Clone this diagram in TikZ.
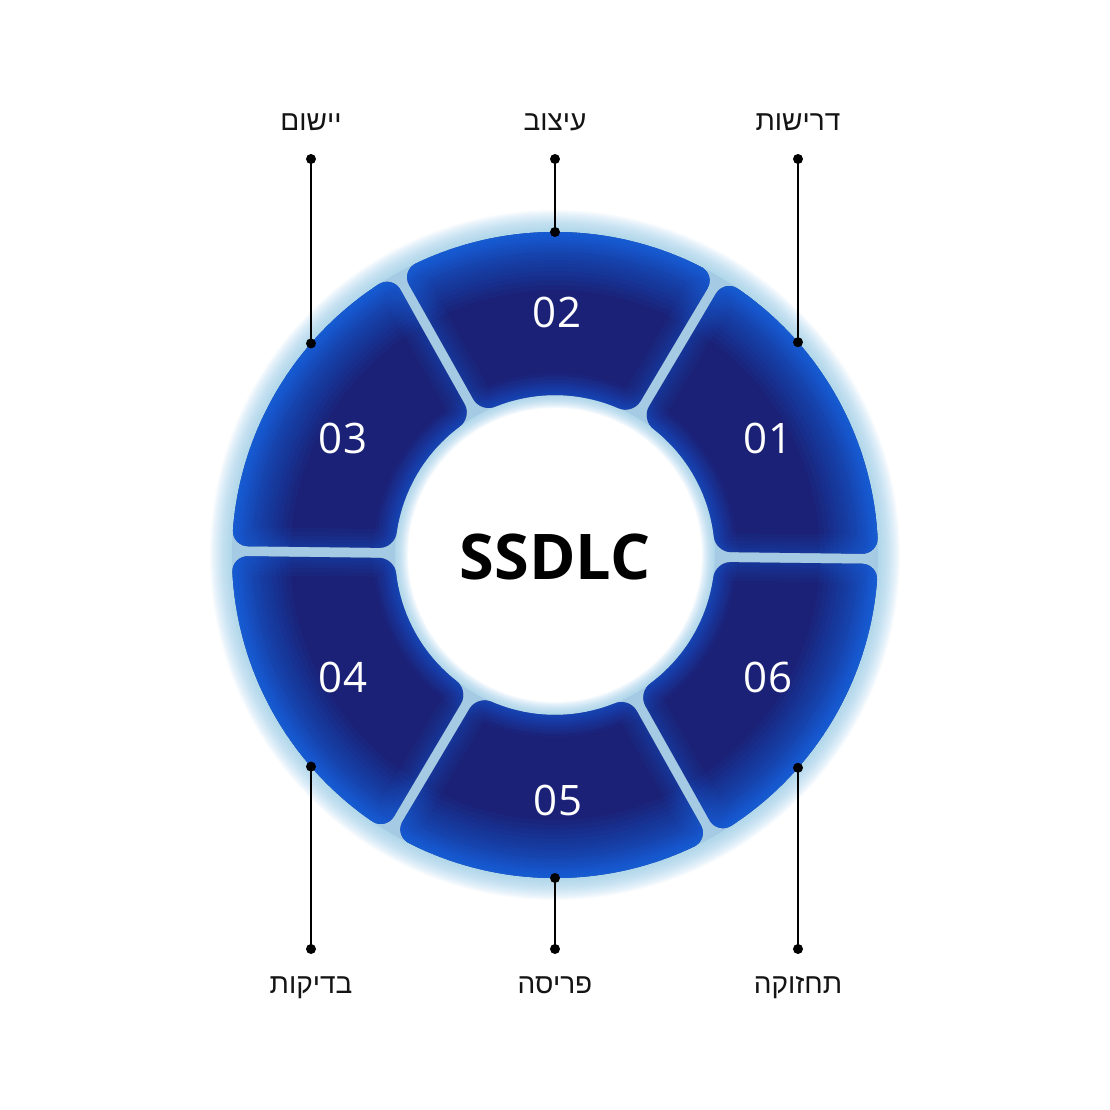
\documentclass[tikz,border=0pt]{standalone}
\usepackage{fontspec}
\setmainfont{Open Sans}
\newfontfamily\hefont[Script=Hebrew]{Liberation Sans}
\TeXXeTstate=1
\usetikzlibrary{calc}
\definecolor{navy}{RGB}{27,33,118}
\definecolor{brightblue}{RGB}{22,108,235}
\definecolor{innerrim}{RGB}{32,80,205}
\definecolor{glowblue}{RGB}{150,205,235}
\definecolor{gapblue}{RGB}{140,175,210}
\definecolor{ink}{RGB}{20,20,20}
\def\Ro{323}
\def\Ri{160}
\def\gp{5}
\def\rc{16}
\def\segpath{(B1o) -- (A1i) .. controls ($(A1i)!0.55!(A1)$) and ($(A1s)!0.55!(A1)$) .. (A1s)
  arc[start angle=\oas, end angle=\obs, radius=\Ro]
  .. controls ($(A2s)!0.55!(A2)$) and ($(A2i)!0.55!(A2)$) .. (A2i)
  -- (B2o) .. controls ($(B2o)!0.55!(B2)$) and ($(B2s)!0.55!(B2)$) .. (B2s)
  arc[start angle=\ibs, end angle=\ias, radius=\Ri]
  .. controls ($(B1s)!0.55!(B1)$) and ($(B1o)!0.55!(B1)$) .. (B1o) -- cycle}
\newcommand\ringseg[2]{%
 \pgfmathsetmacro\oa{#1+asin(\gp/\Ro)}%
 \pgfmathsetmacro\ob{#2-asin(\gp/\Ro)}%
 \pgfmathsetmacro\ia{#1+asin(\gp/\Ri)}%
 \pgfmathsetmacro\ib{#2-asin(\gp/\Ri)}%
 \pgfmathsetmacro\oas{\oa+\rc/\Ro*57.2958}%
 \pgfmathsetmacro\obs{\ob-\rc/\Ro*57.2958}%
 \pgfmathsetmacro\ias{\ia+\rc/\Ri*57.2958}%
 \pgfmathsetmacro\ibs{\ib-\rc/\Ri*57.2958}%
 \coordinate (A1) at (\oa:\Ro);
 \coordinate (A2) at (\ob:\Ro);
 \coordinate (B1) at (\ia:\Ri);
 \coordinate (B2) at (\ib:\Ri);
 \coordinate (A1s) at (\oas:\Ro);
 \coordinate (A2s) at (\obs:\Ro);
 \coordinate (B1s) at (\ias:\Ri);
 \coordinate (B2s) at (\ibs:\Ri);
 \coordinate (A1i) at ($(A1)+(#1+180:\rc)$);
 \coordinate (B1o) at ($(B1)+(#1:\rc)$);
 \coordinate (A2i) at ($(A2)+(#2+180:\rc)$);
 \coordinate (B2o) at ($(B2)+(#2:\rc)$);
 \begin{scope}
  \clip \segpath;
  \fill[navy] (-\Ro,-\Ro) rectangle (\Ro,\Ro);
  \foreach \k in {1.5,3,4.5,6,7.5,9,11,13,15,17,19.5,22,25,28,31.5,35,39,43.5,48,53,58}{
    \fill[brightblue, opacity=0.07, even odd rule] (0,0) circle (\Ro+20) (0,0) circle (\Ro-\k);
  }
  \foreach \k in {1.5,3,5,7,9.5,12,15,18,22}{
    \fill[innerrim, opacity=0.07] (0,0) circle (\Ri+\k);
  }
  \foreach \w in {38,30,22,15,9,4}{\draw[brightblue, opacity=0.06, line width=\w*0.5pt] \segpath;}
 \end{scope}
}
\tikzset{
 numlabel/.style={text=white, font=\fontsize{21}{24}\selectfont, inner sep=0pt},
 stagelabel/.style={text=ink, font=\hefont\fontsize{14}{16}\selectfont, inner sep=0pt, anchor=base},
 conn/.style={draw=black, line width=1pt},
 dotmark/.style={fill=black}
}
\begin{document}
\begin{tikzpicture}[x=0.5pt,y=0.5pt]
\fill[white] (-555,-555) rectangle (555,555);
\useasboundingbox (-555,-555) rectangle (555,555);
% glow
\foreach \k in {1,...,22}{
  \fill[glowblue, opacity=0.05, even odd rule] (0,0) circle ({\Ro+\k}) (0,0) circle ({\Ri-0.6*\k});
}
\fill[gapblue, opacity=0.3, even odd rule] (0,0) circle (\Ro) (0,0) circle (\Ri);
% segments
\ringseg{-0.7}{59.3}
\ringseg{59.3}{119.3}
\ringseg{119.3}{179.3}
\ringseg{179.3}{239.3}
\ringseg{239.3}{299.3}
\ringseg{299.3}{359.3}
% numbers
\node[numlabel] (n1) at (213,117) {01};
\node[numlabel] (n2) at (2,243) {02};
\node[numlabel] (n3) at (-212,117) {03};
\node[numlabel] (n4) at (-212,-122) {04};
\node[numlabel] (n5) at (3,-245) {05};
\node[numlabel] (n6) at (213,-122) {06};
% centre
\node[font=\fontsize{31.5}{36}\selectfont\bfseries, text=black, inner sep=0pt] (title) at (0,-2) {SSDLC};
% connectors
\coordinate (t1) at (243,396);
\coordinate (r1) at (243,212.8);
\coordinate (t2) at (0,396);
\coordinate (r2) at (0,323);
\coordinate (t3) at (-244,396);
\coordinate (r3) at (-244,211.6);
\coordinate (t4) at (-244,-394);
\coordinate (r4) at (-244,-211.6);
\coordinate (t5) at (0,-394);
\coordinate (r5) at (0,-323);
\coordinate (t6) at (243,-394);
\coordinate (r6) at (243,-212.8);
\foreach \i in {1,...,6}{
  \draw[conn] (t\i) -- (r\i);
  \fill[dotmark] (t\i) circle (5);
  \fill[dotmark] (r\i) circle (5);
}
% labels
\node[stagelabel] (l1) at (243,424) {\beginR דרישות\endR};
\node[stagelabel] (l2) at (0,424) {\beginR עיצוב\endR};
\node[stagelabel] (l3) at (-244,424) {\beginR יישום\endR};
\node[stagelabel] (l4) at (-244,-438) {\beginR בדיקות\endR};
\node[stagelabel] (l5) at (0,-438) {\beginR פריסה\endR};
\node[stagelabel] (l6) at (243,-438) {\beginR תחזוקה\endR};
\end{tikzpicture}
\end{document}
